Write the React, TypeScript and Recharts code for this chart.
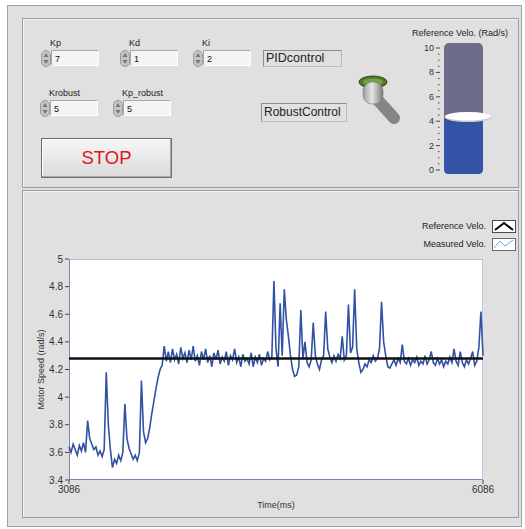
import React from "react";
import { Bar, BarChart, Label, Line, LineChart, ReferenceLine, XAxis, YAxis } from "recharts";

// measured motor speed (rad/s), sampled every 15 ms from 3086 ms to 6086 ms
const timeStartMs = 3086;
const timeEndMs = 6086;
const sampleMs = 15;

const measuredVelo = [
  3.64, 3.6, 3.66, 3.62, 3.58, 3.65, 3.61, 3.67, 3.6, 3.83,
  3.7, 3.66, 3.62, 3.64, 3.58, 3.61, 3.57, 3.62, 4.18, 3.8,
  3.62, 3.49, 3.55, 3.52, 3.58, 3.54, 3.6, 3.95, 3.7, 3.63,
  3.59, 3.55, 3.58, 3.54, 3.6, 4.12, 3.75, 3.67, 3.7, 3.78,
  3.88, 3.97, 4.06, 4.14, 4.2, 4.23, 4.37, 4.26, 4.33, 4.25,
  4.35, 4.27, 4.31, 4.24, 4.36, 4.28, 4.32, 4.25, 4.34, 4.27,
  4.37, 4.26, 4.3, 4.23, 4.33, 4.27, 4.35, 4.25, 4.3, 4.22,
  4.32, 4.27, 4.34, 4.24, 4.29, 4.26, 4.33, 4.23, 4.3, 4.27,
  4.35, 4.25, 4.29, 4.22, 4.31, 4.26, 4.28, 4.24, 4.32, 4.22,
  4.29, 4.25, 4.31, 4.23, 4.28, 4.26, 4.33, 4.27, 4.29, 4.84,
  4.35, 4.22, 4.68, 4.3, 4.78, 4.56, 4.44, 4.3, 4.2, 4.15,
  4.16, 4.22, 4.63, 4.28, 4.4, 4.25, 4.22, 4.27, 4.54, 4.3,
  4.24, 4.2, 4.27, 4.3, 4.62, 4.35, 4.29, 4.25, 4.3, 4.26,
  4.31, 4.28, 4.44, 4.27, 4.3, 4.67, 4.32, 4.36, 4.78, 4.35,
  4.25, 4.18, 4.2, 4.24, 4.22, 4.27, 4.25, 4.3, 4.26, 4.28,
  4.35, 4.69, 4.4, 4.3, 4.22, 4.21, 4.24, 4.27, 4.23, 4.28,
  4.25, 4.38, 4.26, 4.24, 4.28, 4.23, 4.27, 4.25, 4.29, 4.23,
  4.26, 4.24, 4.3, 4.24, 4.27, 4.33, 4.25, 4.23, 4.28, 4.24,
  4.27, 4.22, 4.26, 4.24, 4.29, 4.25, 4.35, 4.26, 4.23, 4.33,
  4.25, 4.22, 4.27, 4.24, 4.28, 4.33, 4.23, 4.26, 4.36, 4.62,
  4.3,
];
const referenceVelo = 4.28;

const speedTicks = [3.4, 3.6, 3.8, 4, 4.2, 4.4, 4.6, 4.8, 5];
const timeTicks = [timeStartMs, timeEndMs];
const sliderTicks = [0, 0.5, 1, 1.5, 2, 2.5, 3, 3.5, 4, 4.5, 5, 5.5, 6, 6.5, 7, 7.5, 8, 8.5, 9, 9.5, 10];

const gainLabels = ["Kp", "Kd", "Ki", "Krobust", "Kp_robust"];
const gainValues = [7, 1, 2, 5, 5];

const speedData = measuredVelo.map((v, i) => ({ time: timeStartMs + i * sampleMs, measured: v }));
const sliderData = [{ name: "ref", value: referenceVelo }];

const FONT = "'Liberation Sans', Arial, sans-serif";
const PANEL = "#e0e0e0";

// spots for the numeric controls: arrow-left, box-top
const gainSpots = [
  [41, 50],
  [120, 50],
  [193, 50],
  [40, 100],
  [113, 100],
];

function NumericControl({ label, value, x, y }: { label: string; value: number; x: number; y: number }) {
  return (
    <>
      <div style={{ position: "absolute", left: x + 9, top: y - 12, fontSize: 9, color: "#222", lineHeight: "10px" }}>
        {label}
      </div>
      <svg style={{ position: "absolute", left: x, top: y }} width={10} height={17}>
        <rect x={0.5} y={0.5} width={9} height={16} rx={4.5} fill="#c4c4c4" stroke="#9a9a9a" />
        <path d="M5 3 L7.5 7 L2.5 7 Z" fill="#777" />
        <path d="M5 14 L7.5 10 L2.5 10 Z" fill="#777" />
      </svg>
      <div
        style={{
          position: "absolute",
          left: x + 10,
          top: y,
          width: 48,
          height: 16,
          background: "#f4f4f4",
          borderTop: "1px solid #a8a8a8",
          borderLeft: "1px solid #a8a8a8",
          borderBottom: "1px solid #fff",
          borderRight: "1px solid #fff",
          fontSize: 9,
          lineHeight: "16px",
          paddingLeft: 3,
          boxSizing: "border-box",
          color: "#111",
        }}
      >
        {value}
      </div>
    </>
  );
}

function SliderTick({ x, y, payload }: any) {
  const v = payload.value;
  const major = v % 2 === 0;
  if (!major) {
    return <line x1={x - 6} x2={x - 4.5} y1={y} y2={y} stroke="#444" strokeWidth={1} />;
  }
  return (
    <g>
      <line x1={x - 8} x2={x - 4} y1={y} y2={y} stroke="#444" strokeWidth={1} />
      <text x={x - 10} y={y} dy={3} textAnchor="end" fontSize={9} fill="#333" fontFamily={FONT}>
        {v}
      </text>
    </g>
  );
}

function SliderFill({ x, y, width, height }: any) {
  const bottom = y + height + 4;
  return (
    <g>
      <path
        d={`M${x} ${y} L${x + width} ${y} L${x + width} ${bottom - 5} Q${x + width} ${bottom} ${x + width - 5} ${bottom} L${x + 5} ${bottom} Q${x} ${bottom} ${x} ${bottom - 5} Z`}
        fill="#3453a6"
      />
      <ellipse cx={x + width / 2 + 4.5} cy={y - 0.5} rx={23.5} ry={4.8} fill="#c9c9c9" />
      <ellipse cx={x + width / 2 + 4.5} cy={y - 1.5} rx={23} ry={4.3} fill="#ffffff" />
    </g>
  );
}

export default function App() {
  return (
    <div
      style={{
        position: "absolute",
        left: 0,
        top: 0,
        width: 525,
        height: 529,
        background: "#fff",
        overflow: "hidden",
        fontFamily: FONT,
      }}
    >
      {/* outer frame */}
      <div style={{ position: "absolute", left: 7, top: 5, width: 515, height: 522, background: PANEL, border: "1px solid #a0a0a0", boxSizing: "border-box" }} />
      {/* top panel */}
      <div style={{ position: "absolute", left: 22, top: 18, width: 497, height: 170, border: "1px solid #9c9c9c", boxShadow: "inset 1px 1px 0 #f6f6f6", boxSizing: "border-box" }} />
      {/* bottom panel */}
      <div style={{ position: "absolute", left: 22, top: 190, width: 497, height: 328, border: "1px solid #9c9c9c", boxShadow: "inset 1px 1px 0 #f6f6f6", boxSizing: "border-box" }} />

      {gainLabels.map((label, i) => (
        <NumericControl key={label} label={label} value={gainValues[i]} x={gainSpots[i][0]} y={gainSpots[i][1]} />
      ))}

      <div style={{ position: "absolute", left: 263, top: 50, width: 79, height: 17, border: "1px solid #8c8c8c", borderRightColor: "#bbb", borderBottomColor: "#bbb", boxSizing: "border-box", fontSize: 12.5, lineHeight: "15px", paddingLeft: 2, color: "#222" }}>
        PIDcontrol
      </div>
      <div style={{ position: "absolute", left: 261, top: 103, width: 86, height: 19, border: "1px solid #8c8c8c", borderRightColor: "#bbb", borderBottomColor: "#bbb", boxSizing: "border-box", fontSize: 12, lineHeight: "17px", paddingLeft: 2, color: "#222" }}>
        RobustControl
      </div>

      {/* toggle switch */}
      <svg style={{ position: "absolute", left: 355, top: 70 }} width={50} height={58}>
        <defs>
          <linearGradient id="knob" x1="0" x2="1" y1="0" y2="0">
            <stop offset="0" stopColor="#9a9a9a" />
            <stop offset="0.45" stopColor="#e6e6e6" />
            <stop offset="1" stopColor="#7a7a7a" />
          </linearGradient>
        </defs>
        <line x1={20} y1={27} x2={39} y2={48} stroke="#6f6f6f" strokeWidth={12} strokeLinecap="round" opacity={0.8} />
        <ellipse cx={18} cy={12} rx={14} ry={6} fill="#4f7a2c" stroke="#2e4a18" />
        <ellipse cx={18} cy={12} rx={10} ry={3.5} fill="#77a04a" />
        <rect x={8} y={12} width={20} height={22} rx={9} fill="url(#knob)" stroke="#777" strokeWidth={0.6} />
      </svg>

      {/* stop button */}
      <div
        style={{
          position: "absolute",
          left: 41,
          top: 138,
          width: 131,
          height: 40,
          border: "1px solid #6e6e6e",
          boxSizing: "border-box",
          background: "linear-gradient(#f7f7f7, #dadada)",
          boxShadow: "inset -1px -1px 0 #aaa, inset 1px 1px 0 #fff",
          color: "#e3141d",
          fontSize: 18.5,
          lineHeight: "38px",
          textAlign: "center",
        }}
      >
        STOP
      </div>

      {/* reference velocity slider */}
      <div style={{ position: "absolute", left: 405, top: 28, width: 110, textAlign: "center", fontSize: 9, color: "#222" }}>
        Reference Velo. (Rad/s)
      </div>
      <div style={{ position: "absolute", left: 444, top: 43, width: 39, height: 131, borderRadius: 5, background: "#6d6c89" }} />
      <div style={{ position: "absolute", left: 400, top: 0 }}>
        <BarChart width={100} height={200} data={sliderData} margin={{ top: 48, right: 17, bottom: 30, left: 9 }} barCategoryGap={0}>
          <XAxis dataKey="name" hide />
          <YAxis
            type="number"
            domain={[0, 10]}
            ticks={sliderTicks}
            interval={0}
            width={35}
            tickSize={0}
            tickMargin={0}
            axisLine={false}
            tickLine={false}
            tick={(p: any) => <SliderTick {...p} />}
          />
          <Bar dataKey="value" isAnimationActive={false} shape={(p: any) => <SliderFill {...p} />} />
        </BarChart>
      </div>

      {/* legend */}
      <div style={{ position: "absolute", left: 400, top: 221, width: 86, textAlign: "right", fontSize: 9, color: "#222", lineHeight: "10px" }}>
        Reference Velo.
      </div>
      <svg style={{ position: "absolute", left: 492, top: 220 }} width={24} height={13}>
        <rect x={0.5} y={0.5} width={23} height={12} fill="#fff" stroke="#4a4a4a" />
        <path d="M3 10 L12 3 L21 10" fill="none" stroke="#000" strokeWidth={2} />
      </svg>
      <div style={{ position: "absolute", left: 400, top: 239, width: 86, textAlign: "right", fontSize: 9, color: "#222", lineHeight: "10px" }}>
        Measured Velo.
      </div>
      <svg style={{ position: "absolute", left: 492, top: 238 }} width={24} height={13}>
        <rect x={0.5} y={0.5} width={23} height={12} fill="#fff" stroke="#6a6a6a" />
        <path d="M2 10 L8 3 L13 8 L21 2" fill="none" stroke="#7d9bd6" strokeWidth={1} />
      </svg>

      {/* plot background */}
      <div
        style={{
          position: "absolute",
          left: 69,
          top: 259,
          width: 414,
          height: 221,
          background: "#fff",
          borderLeft: "1px solid #8080b2",
          borderBottom: "1px solid #8080b2",
          borderTop: "1px solid #b8b8d6",
          borderRight: "1px solid #c4c4de",
          boxSizing: "border-box",
        }}
      />

      <div style={{ position: "absolute", left: 22, top: 190 }}>
        <LineChart width={497} height={328} data={speedData} margin={{ top: 69, right: 36, bottom: 8, left: 7 }}>
          <XAxis
            dataKey="time"
            type="number"
            domain={[timeStartMs, timeEndMs]}
            ticks={timeTicks}
            interval={0}
            height={30}
            tickSize={4}
            tickMargin={2}
            axisLine={false}
            tickLine={{ stroke: "#444" }}
            tick={{ fontSize: 10, fill: "#333", fontFamily: FONT }}
          >
            <Label value="Time(ms)" position="insideBottom" offset={2} style={{ fontSize: 9, fill: "#333", fontFamily: FONT }} />
          </XAxis>
          <YAxis
            type="number"
            domain={[3.4, 5]}
            ticks={speedTicks}
            interval={0}
            width={40}
            tickSize={4}
            tickMargin={2}
            axisLine={false}
            tickLine={{ stroke: "#444" }}
            tick={{ fontSize: 10, fill: "#333", fontFamily: FONT }}
          >
            <Label
              value="Motor Speed (rad/s)"
              angle={-90}
              position="insideLeft"
              offset={12}
              style={{ fontSize: 9, fill: "#333", fontFamily: FONT, textAnchor: "middle" }}
            />
          </YAxis>
          <Line dataKey="measured" type="linear" stroke="#3152a4" strokeWidth={1.6} strokeLinejoin="miter" dot={false} isAnimationActive={false} />
          <ReferenceLine y={referenceVelo} stroke="#111" strokeWidth={2.5} />
        </LineChart>
      </div>
    </div>
  );
}
